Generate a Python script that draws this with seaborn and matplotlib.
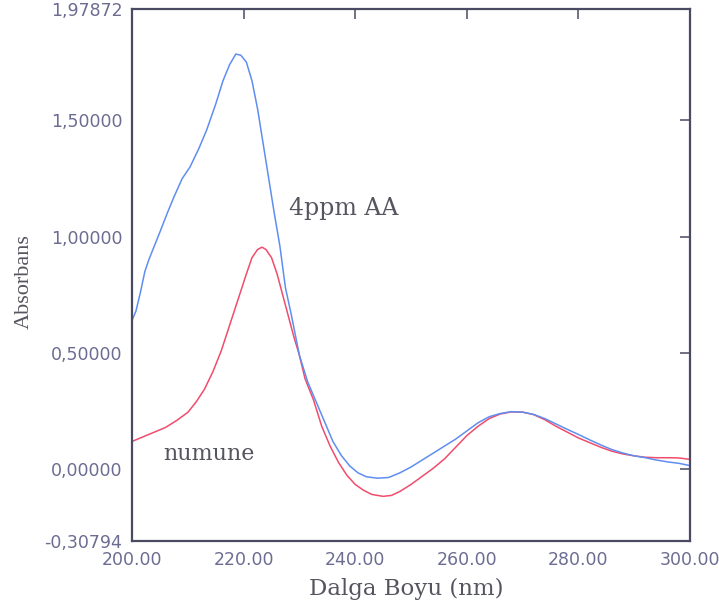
import matplotlib
matplotlib.use("Agg")
import matplotlib.pyplot as plt
import seaborn as sns
import pandas as pd

# UV absorbance spectra: 4 ppm ascorbic acid standard and sample
wl_std = [200.0, 200.7, 201.5, 202.3, 203.0, 204.0, 205.0, 206.3, 207.5, 209.0,
          210.4, 212.0, 213.4, 215.0, 216.3, 217.5, 218.6, 219.5, 220.5, 221.5,
          222.5, 223.5, 224.5, 225.5, 226.5, 227.5, 228.5, 230.0, 231.5, 233.0,
          234.5, 236.0, 237.5, 239.0, 240.5, 242.0, 244.0, 246.0, 248.0, 250.0,
          252.0, 254.0, 256.0, 258.0, 260.0, 262.0, 264.0, 266.0, 268.0, 270.0,
          272.0, 274.0, 276.0, 278.0, 280.0, 282.0, 284.0, 286.0, 288.0, 290.0,
          292.0, 294.0, 296.0, 298.0, 300.0]
abs_std = [0.640, 0.680, 0.760, 0.850, 0.900, 0.960, 1.020, 1.100, 1.170, 1.250,
           1.300, 1.380, 1.460, 1.570, 1.670, 1.740, 1.785, 1.780, 1.750, 1.670,
           1.550, 1.400, 1.250, 1.100, 0.960, 0.780, 0.670, 0.490, 0.375, 0.290,
           0.205, 0.120, 0.060, 0.015, -0.015, -0.032, -0.038, -0.035, -0.015, 0.010,
           0.040, 0.070, 0.100, 0.130, 0.165, 0.200, 0.226, 0.240, 0.248, 0.246,
           0.236, 0.218, 0.195, 0.172, 0.150, 0.127, 0.105, 0.085, 0.070, 0.058,
           0.050, 0.040, 0.032, 0.026, 0.016]

wl_smp = [200.0, 202.0, 204.0, 206.0, 208.0, 210.0, 211.5, 213.0, 214.5, 216.0,
          217.5, 219.0, 220.5, 221.5, 222.5, 223.3, 224.0, 225.0, 226.0, 227.0,
          228.0, 229.0, 230.0, 231.0, 232.5, 234.0, 235.5, 237.0, 238.5, 240.0,
          241.5, 243.0, 245.0, 246.5, 248.0, 250.0, 252.0, 254.0, 256.0, 258.0,
          260.0, 262.0, 264.0, 266.0, 268.0, 270.0, 272.0, 274.0, 276.0, 278.0,
          280.0, 282.0, 284.0, 286.0, 288.0, 290.0, 292.0, 294.0, 296.0, 298.0,
          300.0]
abs_smp = [0.120, 0.140, 0.160, 0.180, 0.210, 0.245, 0.290, 0.345, 0.420, 0.510,
           0.620, 0.730, 0.840, 0.910, 0.945, 0.955, 0.945, 0.910, 0.840, 0.750,
           0.660, 0.570, 0.490, 0.390, 0.300, 0.185, 0.100, 0.030, -0.025, -0.065,
           -0.090, -0.108, -0.116, -0.112, -0.095, -0.065, -0.030, 0.005, 0.045, 0.095,
           0.145, 0.185, 0.218, 0.238, 0.247, 0.246, 0.235, 0.213, 0.185, 0.160,
           0.135, 0.115, 0.095, 0.078, 0.066, 0.058, 0.052, 0.050, 0.050, 0.049,
           0.043]

series_names = ["4ppm AA", "numune"]
x_ticks = [200.0, 220.0, 240.0, 260.0, 280.0, 300.0]
y_ticks = [-0.30794, 0.0, 0.5, 1.0, 1.5, 1.97872]
y_tick_labels = ["-0,30794", "0,00000", "0,50000", "1,00000", "1,50000", "1,97872"]

df = pd.concat([
    pd.DataFrame({"wl": wl_std, "abs": abs_std, "series": series_names[0]}),
    pd.DataFrame({"wl": wl_smp, "abs": abs_smp, "series": series_names[1]}),
])

sns.set_theme(style="white")
plt.rcParams["font.family"] = ["DejaVu Sans"]

axis_col = "#4a4a62"
tick_col = "#6c6c92"
text_col = "#55555f"

fig = plt.figure(figsize=(7.19, 6.08), dpi=100)
ax = fig.add_axes([0.1836, 0.1102, 0.7761, 0.8750])

sns.lineplot(data=df, x="wl", y="abs", hue="series", sort=False, estimator=None,
             palette={"4ppm AA": "#5f8ef0", "numune": "#f04c6c"},
             hue_order=[series_names[1], series_names[0]],
             linewidth=1.1, legend=False, ax=ax)

ax.set_xlim(200, 300)
ax.set_ylim(-0.30794, 1.97872)
ax.set_xticks(x_ticks)
ax.set_xticklabels([f"{v:.2f}" for v in x_ticks])
ax.set_yticks(y_ticks)
ax.set_yticklabels(y_tick_labels)

for s in ax.spines.values():
    s.set_color(axis_col)
    s.set_linewidth(1.6)

ax.tick_params(axis="both", direction="in", length=7, width=1.1, color=axis_col,
               labelcolor=tick_col, labelsize=12.5, top=True, right=True)
ax.tick_params(axis="y", pad=7)
ax.tick_params(axis="x", pad=7)

ax.set_xlabel("Dalga Boyu (nm)", family="DejaVu Serif", fontsize=16.5, color=text_col)
ax.xaxis.set_label_coords(0.492, -0.070)
ax.set_ylabel("Absorbans", family="Liberation Serif", fontsize=16, color=text_col)
ax.yaxis.set_label_coords(-0.176, 0.487)

ax.text(228.2, 1.094, series_names[0], family="DejaVu Serif", fontsize=17,
        color=text_col, ha="left", va="baseline")
ax.text(205.6, 0.04, series_names[1], family="DejaVu Serif", fontsize=16,
        color=text_col, ha="left", va="baseline")

fig.savefig("out.png", dpi=100, facecolor="white")
